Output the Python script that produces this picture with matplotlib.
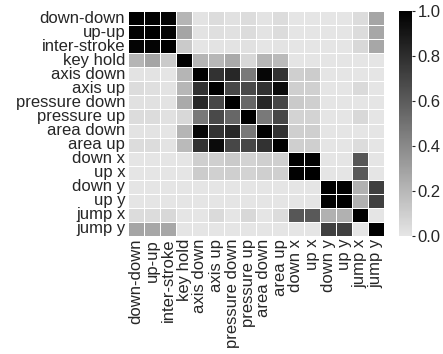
import matplotlib
matplotlib.use("Agg")
import matplotlib.pyplot as plt
import numpy as np
import seaborn as sns
from matplotlib.colors import LinearSegmentedColormap

labels = [
    "down-down", "up-up", "inter-stroke", "key hold", "axis down", "axis up",
    "pressure down", "pressure up", "area down", "area up", "down x", "up x",
    "down y", "up y", "jump x", "jump y",
]

# absolute correlations (rows in label order)
row_dd = [1.00, 0.99, 0.98, 0.21, 0.01, 0.04, 0.02, 0.04, 0.01, 0.04, 0.00, 0.00, 0.00, 0.00, 0.04, 0.28]
row_uu = [0.99, 1.00, 0.98, 0.28, 0.01, 0.03, 0.02, 0.04, 0.01, 0.04, 0.00, 0.00, 0.00, 0.00, 0.04, 0.27]
row_is = [0.98, 0.98, 1.00, 0.12, 0.00, 0.01, 0.01, 0.02, 0.00, 0.01, 0.00, 0.00, 0.00, 0.00, 0.06, 0.27]
row_kh = [0.21, 0.28, 0.12, 1.00, 0.21, 0.20, 0.26, 0.06, 0.21, 0.19, 0.00, 0.00, 0.00, 0.00, 0.00, 0.00]
row_axd = [0.01, 0.01, 0.00, 0.21, 1.00, 0.78, 0.83, 0.47, 0.97, 0.78, 0.10, 0.11, 0.00, 0.00, 0.00, 0.00]
row_axu = [0.04, 0.03, 0.01, 0.20, 0.78, 1.00, 0.69, 0.68, 0.78, 0.95, 0.10, 0.09, 0.00, 0.00, 0.05, 0.00]
row_pd = [0.02, 0.02, 0.01, 0.26, 0.83, 0.69, 1.00, 0.55, 0.83, 0.69, 0.12, 0.10, 0.00, 0.00, 0.00, 0.00]
row_pu = [0.04, 0.04, 0.02, 0.06, 0.47, 0.68, 0.55, 1.00, 0.47, 0.69, 0.08, 0.08, 0.00, 0.00, 0.06, 0.00]
row_ad = [0.01, 0.01, 0.00, 0.21, 0.97, 0.78, 0.83, 0.47, 1.00, 0.78, 0.10, 0.10, 0.00, 0.00, 0.00, 0.00]
row_au = [0.04, 0.04, 0.01, 0.19, 0.78, 0.95, 0.69, 0.69, 0.78, 1.00, 0.10, 0.10, 0.00, 0.00, 0.04, 0.00]
row_dx = [0.00, 0.00, 0.00, 0.00, 0.10, 0.10, 0.12, 0.08, 0.10, 0.10, 1.00, 0.99, 0.00, 0.00, 0.62, 0.00]
row_ux = [0.00, 0.00, 0.00, 0.00, 0.11, 0.09, 0.10, 0.08, 0.10, 0.10, 0.99, 1.00, 0.00, 0.00, 0.61, 0.00]
row_dy = [0.00, 0.00, 0.00, 0.00, 0.00, 0.00, 0.00, 0.00, 0.00, 0.00, 0.00, 0.00, 1.00, 0.99, 0.23, 0.72]
row_uy = [0.00, 0.00, 0.00, 0.00, 0.00, 0.00, 0.00, 0.00, 0.00, 0.00, 0.00, 0.00, 0.99, 1.00, 0.23, 0.72]
row_jx = [0.04, 0.04, 0.06, 0.00, 0.00, 0.05, 0.00, 0.06, 0.00, 0.04, 0.62, 0.61, 0.23, 0.23, 1.00, 0.00]
row_jy = [0.28, 0.27, 0.27, 0.00, 0.00, 0.00, 0.00, 0.00, 0.00, 0.00, 0.00, 0.00, 0.72, 0.72, 0.00, 1.00]

corr = np.array([
    row_dd, row_uu, row_is, row_kh, row_axd, row_axu, row_pd, row_pu,
    row_ad, row_au, row_dx, row_ux, row_dy, row_uy, row_jx, row_jy,
])

sns.set_style("white")
plt.rcParams["font.family"] = ["Liberation Sans", "DejaVu Sans"]
plt.rcParams["font.size"] = 12

cmap = LinearSegmentedColormap.from_list("grey_black", ["#e5e5e5", "#000000"])

W, H = 443, 354
top, bottom = 11, 236
fig = plt.figure(figsize=(W / 100, H / 100), dpi=100)
ax = fig.add_axes([128 / W, 1 - bottom / H, 256 / W, (bottom - top) / H])
cax = fig.add_axes([399 / W, 1 - bottom / H, 13 / W, (bottom - top) / H])

sns.heatmap(
    corr, ax=ax, cbar_ax=cax, cmap=cmap, vmin=0, vmax=1,
    linewidths=0.5, linecolor="white",
    xticklabels=labels, yticklabels=labels,
)
ax.tick_params(axis="both", length=0, labelsize=12, pad=2)
ax.set_xticklabels(labels, rotation=90)
ax.set_yticklabels(labels, rotation=0)

cax.tick_params(length=2, width=0.8, labelsize=12, pad=2)
cax.set_yticks([0.0, 0.2, 0.4, 0.6, 0.8, 1.0])
cax.set_yticklabels(["0.0", "0.2", "0.4", "0.6", "0.8", "1.0"])

fig.savefig("out.png", dpi=100)
